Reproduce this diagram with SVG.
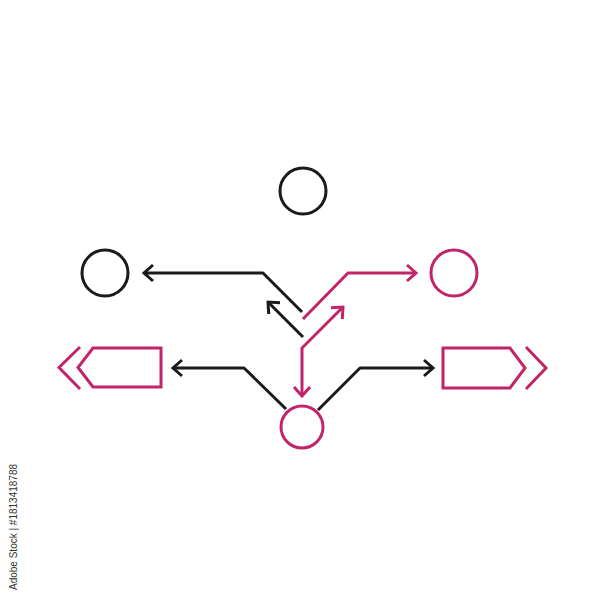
<svg xmlns="http://www.w3.org/2000/svg" width="600" height="600" viewBox="0 0 600 600">
<style>
.k{fill:none;stroke:#1a1a1a;stroke-width:3;stroke-linejoin:round;stroke-linecap:butt}
.p{fill:none;stroke:#c2246a;stroke-width:3;stroke-linejoin:miter;stroke-linecap:butt}
.wm{font-family:"Liberation Sans",Arial,sans-serif;font-size:10px;fill:#333}
</style>
<defs>
<marker id="ak" markerUnits="userSpaceOnUse" viewBox="-12 -10 14 20" markerWidth="14" markerHeight="20" refX="0" refY="0" orient="auto">
<path d="M-9,-8 L0,0 L-9,8" fill="none" stroke="#1a1a1a" stroke-width="3"/>
</marker>
<marker id="ap" markerUnits="userSpaceOnUse" viewBox="-12 -10 14 20" markerWidth="14" markerHeight="20" refX="0" refY="0" orient="auto">
<path d="M-9,-8 L0,0 L-9,8" fill="none" stroke="#c2246a" stroke-width="3"/>
</marker>
<marker id="apS" markerUnits="userSpaceOnUse" viewBox="-12 -10 14 20" markerWidth="14" markerHeight="20" refX="0" refY="0" orient="auto-start-reverse">
<path d="M-9,-8 L0,0 L-9,8" fill="none" stroke="#c2246a" stroke-width="3"/>
</marker>
</defs>
<g id="node-top"><circle class="k" cx="303" cy="191" r="23"/></g>
<g id="node-left"><circle class="k" cx="105" cy="273" r="23"/></g>
<g id="node-right"><circle class="p" cx="454" cy="273" r="23"/></g>
<g id="node-bottom"><circle class="p" cx="302" cy="427" r="21"/></g>
<g id="node-left-tag">
<polygon class="p" points="161,348 93,348 78,367.5 93,387 161,387"/>
<polyline class="p" points="80,347 59,367.5 80,389"/>
</g>
<g id="node-right-tag">
<polygon class="p" points="443,348 510,348 525,368 510,388 443,388"/>
<polyline class="p" points="526,347 546,368 526,389"/>
</g>
<g id="connectors">
<path class="k" d="M302,312 L263,273 L144,273" marker-end="url(#ak)"/>
<path class="k" d="M303,337 L268,302" marker-end="url(#ak)"/>
<path class="p" d="M303,319 L348,273 L416,273" marker-end="url(#ap)"/>
<path class="p" d="M302,396 L302,348 L343,307" marker-start="url(#apS)" marker-end="url(#ap)"/>
<path class="k" d="M286,409 L244,368 L173,368" marker-end="url(#ak)"/>
<path class="k" d="M318,410 L360,368 L433,368" marker-end="url(#ak)"/>
</g>
<text class="wm" transform="translate(17,590) rotate(-90)">Adobe Stock | #1813418788</text>
</svg>
